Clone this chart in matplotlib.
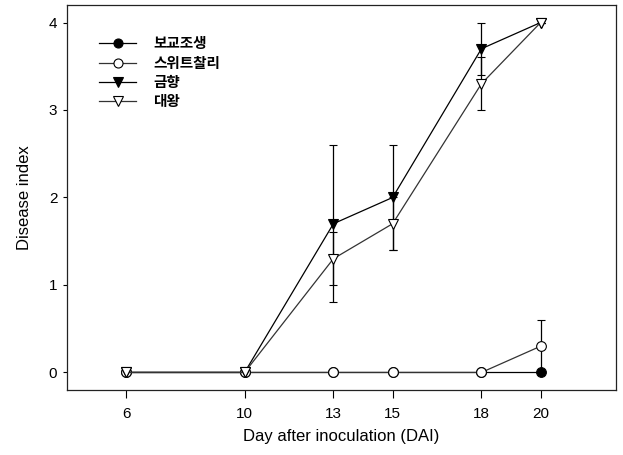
import matplotlib.pyplot as plt
from matplotlib.lines import Line2D

# 한글 폰트 설정
plt.rcParams["font.family"] = ["Liberation Sans", "Noto Sans CJK KR", "DejaVu Sans"]
plt.rcParams["axes.unicode_minus"] = False

days = [6, 10, 13, 15, 18, 20]
names = ["보교조생", "스위트찰리", "금향", "대왕"]

bogyo = [0, 0, 0, 0, 0, 0]
bogyo_err = [0, 0, 0, 0, 0, 0]
sweet = [0, 0, 0, 0, 0, 0.3]
sweet_err = [0, 0, 0, 0, 0, 0.3]
geumhyang = [0, 0, 1.7, 2.0, 3.7, 4.0]
geumhyang_err = [0, 0, 0.9, 0.6, 0.3, 0]
daewang = [0, 0, 1.3, 1.7, 3.3, 4.0]
daewang_err = [0, 0, 0.3, 0.3, 0.3, 0]

fig = plt.figure(figsize=(6.23, 4.55), dpi=100)
ax = fig.add_axes([0.1075, 0.143, 0.8815, 0.846])

styles = [
    (bogyo, bogyo_err, "o", "black", "black"),
    (sweet, sweet_err, "o", "white", "#333333"),
    (geumhyang, geumhyang_err, "v", "black", "black"),
    (daewang, daewang_err, "v", "white", "#333333"),
]

handles = []
for (vals, errs, mk, fc, lc), nm in zip(styles, names):
    ax.errorbar(days, vals, yerr=errs, marker=mk, markersize=7,
                markerfacecolor=fc, markeredgecolor="black", markeredgewidth=0.8,
                color=lc, linewidth=0.9, ecolor="black", elinewidth=0.9,
                capsize=3, capthick=0.9)
    handles.append(Line2D([], [], marker=mk, markersize=6.5, markerfacecolor=fc,
                          markeredgecolor="black", markeredgewidth=0.8,
                          color=lc, linewidth=0.9, label=nm))

ax.set_xlim(4, 22.55)
ax.set_ylim(-0.2, 4.2)
ax.set_xticks(days)
ax.set_yticks([0, 1, 2, 3, 4])
ax.tick_params(axis="x", direction="out", length=6, pad=6, labelsize=11)
ax.tick_params(axis="y", direction="out", length=3, pad=4, labelsize=11)
ax.set_xlabel("Day after inoculation (DAI)", fontsize=12, labelpad=6)
ax.set_ylabel("Disease index", fontsize=12, labelpad=12)
for sp in ax.spines.values():
    sp.set_linewidth(0.9)
    sp.set_color("#222222")

leg = ax.legend(handles=handles, loc="upper left", bbox_to_anchor=(0.035, 0.955),
                frameon=False, handlelength=2.5, handletextpad=1.2,
                labelspacing=0.22,
                prop={"family": ["Noto Sans CJK KR"], "weight": "bold", "size": 10.5})

plt.savefig("out.png", dpi=100)
